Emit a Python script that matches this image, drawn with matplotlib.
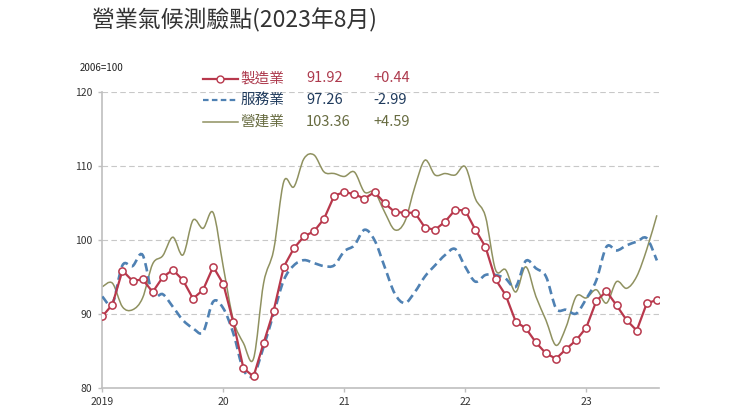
import numpy as np
import matplotlib.pyplot as plt
from matplotlib.path import Path
from matplotlib.patches import PathPatch
from matplotlib.lines import Line2D

plt.rcParams['font.family'] = ['Noto Sans CJK TC', 'DejaVu Sans']

# monthly values, Jan 2019 .. Aug 2023
manufacturing = [
    89.7, 91.3, 95.9, 94.5, 94.7, 93.0, 95.0, 96.0, 94.6, 92.1, 93.3, 96.4,
    94.1, 88.9, 82.7, 81.6, 86.1, 90.5, 96.4, 98.9, 100.5, 101.2, 102.9, 106.0,
    106.5, 106.2, 105.6, 106.5, 105.0, 103.8, 103.7, 103.7, 101.7, 101.4, 102.5, 104.1,
    104.0, 101.4, 99.1, 94.7, 92.6, 89.0, 88.1, 86.2, 84.7, 84.0, 85.3, 86.5,
    88.2, 91.8, 93.1, 91.2, 89.2, 87.8, 91.48, 91.92,
]
services = [
    92.4, 91.4, 96.6, 96.5, 98.0, 92.6, 92.7, 91.0, 89.2, 88.1, 87.6, 91.7,
    90.8, 87.4, 82.5, 81.8, 85.6, 90.1, 94.6, 96.6, 97.3, 96.9, 96.5, 96.6,
    98.5, 99.3, 101.4, 100.0, 96.4, 92.8, 91.5, 93.0, 95.1, 96.6, 98.0, 98.8,
    96.4, 94.4, 95.3, 95.3, 94.8, 93.7, 97.2, 96.2, 95.1, 90.8, 90.6, 90.1,
    92.1, 94.6, 99.1, 98.6, 99.3, 99.8, 100.25, 97.26,
]
construction = [
    93.7, 94.2, 91.0, 90.6, 92.2, 96.8, 97.9, 100.4, 98.0, 102.7, 101.6, 103.7,
    96.4, 89.2, 86.1, 84.0, 94.2, 98.7, 107.9, 107.2, 111.0, 111.5, 109.2, 109.0,
    108.6, 109.2, 106.5, 106.5, 103.8, 101.4, 102.5, 107.2, 110.8, 108.8, 109.0, 108.8,
    109.9, 105.6, 103.2, 96.0, 96.0, 93.0, 96.4, 92.4, 89.2, 85.8, 88.3, 92.4,
    92.2, 93.3, 91.5, 94.4, 93.5, 95.1, 98.77, 103.36,
]
year_labels = ['2019', '20', '21', '22', '23']
legend_names = ['製造業', '服務業', '營建業']
legend_values = ['91.92', '97.26', '103.36']
legend_changes = ['+0.44', '-2.99', '+4.59']

red = '#b8384c'
blue = '#4f81b3'
olive = '#8f9160'
text_cols = ['#ad3a4d', '#1f3a5c', '#676b40']


def smooth_path(xs, ys):
    # Excel-like smoothed line as cubic Bezier segments
    pts = np.column_stack([xs, ys]).astype(float)
    n = len(pts)
    verts = [pts[0]]
    codes = [Path.MOVETO]
    for i in range(n - 1):
        p0 = pts[max(i - 1, 0)]
        p1 = pts[i]
        p2 = pts[i + 1]
        p3 = pts[min(i + 2, n - 1)]
        verts += [p1 + (p2 - p0) / 6, p2 - (p3 - p1) / 6, p2]
        codes += [Path.CURVE4] * 3
    return Path(verts, codes)


x = np.arange(len(manufacturing))

fig = plt.figure(figsize=(7.4, 4.16), dpi=100)
ax = fig.add_axes([0.1382, 0.0666, 0.7522, 0.7122])

ax.add_patch(PathPatch(smooth_path(x, construction), fill=False,
                       edgecolor=olive, lw=1.1, zorder=2))
ax.add_patch(PathPatch(smooth_path(x, services), fill=False,
                       edgecolor=blue, lw=1.9, linestyle=(0, (3.2, 1.8)),
                       zorder=3))
ax.plot(x, manufacturing, color=red, lw=1.6, marker='o', ms=5.2,
        mfc='white', mec=red, mew=1.1, zorder=4)

ax.set_xlim(0, 55.2)
ax.set_ylim(80, 120)
ax.set_yticks([80, 90, 100, 110, 120])
ax.set_xticks([0, 12, 24, 36, 48])
ax.set_xticklabels(year_labels)
for v in [90, 100, 110, 120]:
    ax.axhline(v, color='#c8c8c8', lw=0.8, ls=(0, (5, 3)), zorder=1)

for s in ['top', 'right']:
    ax.spines[s].set_visible(False)
for s in ['left', 'bottom']:
    ax.spines[s].set_color('#bfbfbf')
    ax.spines[s].set_linewidth(1.2)
ax.tick_params(axis='both', colors='#bfbfbf', labelcolor='#333333',
               labelsize=7.5, length=3, width=1)
ax.tick_params(axis='y', pad=4)

fig.text(0.124, 0.951, '營業氣候測驗點(2023年8月)', fontsize=16.5,
         color='#333333', va='center', ha='left')
fig.text(0.108, 0.836, '2006=100', fontsize=7, color='#222222',
         va='center', ha='left')

rows_y = [78.5, 100, 121.5]
for i in range(3):
    yf = 1 - rows_y[i] / 416
    if i == 0:
        ln = Line2D([203 / 740, 238 / 740], [yf, yf], color=red, lw=1.6,
                    marker='o', markevery=[1], ms=5, mfc='white', mec=red,
                    transform=fig.transFigure)
        ln.set_data([203 / 740, 220 / 740, 238 / 740], [yf, yf, yf])
    elif i == 1:
        ln = Line2D([203 / 740, 238 / 740], [yf, yf], color=blue, lw=1.6,
                    ls=(0, (2.5, 1.5)), transform=fig.transFigure)
    else:
        ln = Line2D([203 / 740, 238 / 740], [yf, yf], color=olive, lw=1.1,
                    transform=fig.transFigure)
    fig.add_artist(ln)
    fig.text(240.5 / 740, yf, legend_names[i], fontsize=10.5,
             color=text_cols[i], va='center', ha='left')
    fig.text(306 / 740, yf, legend_values[i], fontsize=10.5,
             color=text_cols[i], va='center', ha='left')
    fig.text(373 / 740, yf, legend_changes[i], fontsize=10.5,
             color=text_cols[i], va='center', ha='left')

fig.savefig('out.png', dpi=100, facecolor='white')
